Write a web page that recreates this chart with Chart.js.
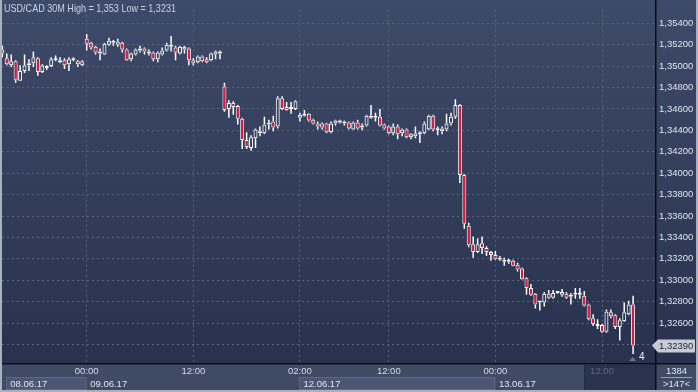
<!DOCTYPE html>
<html>
<head>
<meta charset="utf-8">
<script src="https://cdn.jsdelivr.net/npm/chart.js@4.4.0/dist/chart.umd.min.js"></script>
<style>
  html, body { margin: 0; padding: 0; background: #2e3955; overflow: hidden; }
  canvas { display: block; }
</style>
</head>
<body>
<canvas id="chart" width="698" height="392"></canvas>
<script>
// USD/CAD 30分足 (08.06.17 - 13.06.17)
const openP = [
  1.35118, 1.35073, 1.35009, 1.35045, 1.34864, 1.34955, 1.35009, 1.35027, 1.35073, 1.34945,
  1.34982, 1.35000, 1.35055, 1.35055, 1.35055, 1.35018, 1.35055, 1.35045, 1.35009, 1.35255,
  1.35218, 1.35182, 1.35136, 1.35109, 1.35200, 1.35218, 1.35227, 1.35218, 1.35155, 1.35064,
  1.35109, 1.35145, 1.35164, 1.35118, 1.35127, 1.35064, 1.35109, 1.35145, 1.35200, 1.35173,
  1.35118, 1.35155, 1.35164, 1.35055, 1.35036, 1.35091, 1.35064, 1.35055, 1.35109, 1.35118,
  1.34809, 1.34600, 1.34655, 1.34627, 1.34509, 1.34309, 1.34236, 1.34327, 1.34391, 1.34373,
  1.34455, 1.34482, 1.34436, 1.34700, 1.34618, 1.34600, 1.34600, 1.34518, 1.34536, 1.34555,
  1.34500, 1.34464, 1.34464, 1.34464, 1.34382, 1.34464, 1.34473, 1.34482, 1.34473, 1.34409,
  1.34473, 1.34427, 1.34445, 1.34518, 1.34518, 1.34527, 1.34455, 1.34436, 1.34373, 1.34436,
  1.34373, 1.34409, 1.34336, 1.34345, 1.34364, 1.34373, 1.34409, 1.34536, 1.34418, 1.34391,
  1.34409, 1.34464, 1.34527, 1.34636, 1.33982, 1.33509, 1.33336, 1.33264, 1.33345, 1.33300,
  1.33264, 1.33236, 1.33191, 1.33191, 1.33173, 1.33182, 1.33145, 1.33109, 1.33018, 1.32927,
  1.32873, 1.32791, 1.32791, 1.32873, 1.32836, 1.32882, 1.32891, 1.32873, 1.32845, 1.32864,
  1.32882, 1.32855, 1.32773, 1.32645, 1.32591, 1.32582, 1.32518, 1.32700, 1.32673, 1.32564,
  1.32618, 1.32682, 1.32773
];
const highP = [
  1.35191, 1.35118, 1.35109, 1.35055, 1.35009, 1.35109, 1.35064, 1.35136, 1.35082, 1.35018,
  1.35009, 1.35082, 1.35100, 1.35082, 1.35073, 1.35082, 1.35082, 1.35055, 1.35055, 1.35300,
  1.35227, 1.35191, 1.35164, 1.35218, 1.35264, 1.35245, 1.35255, 1.35227, 1.35164, 1.35127,
  1.35164, 1.35191, 1.35173, 1.35155, 1.35136, 1.35136, 1.35173, 1.35218, 1.35282, 1.35191,
  1.35191, 1.35191, 1.35173, 1.35073, 1.35100, 1.35100, 1.35082, 1.35127, 1.35145, 1.35145,
  1.34845, 1.34682, 1.34673, 1.34636, 1.34518, 1.34382, 1.34355, 1.34418, 1.34436, 1.34527,
  1.34500, 1.34536, 1.34718, 1.34718, 1.34664, 1.34664, 1.34682, 1.34564, 1.34591, 1.34560,
  1.34509, 1.34482, 1.34473, 1.34470, 1.34482, 1.34500, 1.34500, 1.34491, 1.34482, 1.34482,
  1.34500, 1.34464, 1.34545, 1.34636, 1.34564, 1.34600, 1.34464, 1.34445, 1.34464, 1.34455,
  1.34418, 1.34418, 1.34373, 1.34436, 1.34391, 1.34482, 1.34545, 1.34545, 1.34436, 1.34436,
  1.34555, 1.34564, 1.34691, 1.34645, 1.33991, 1.33536, 1.33409, 1.33391, 1.33409, 1.33318,
  1.33273, 1.33273, 1.33227, 1.33209, 1.33200, 1.33191, 1.33164, 1.33118, 1.33027, 1.32964,
  1.32882, 1.32805, 1.32891, 1.32909, 1.32909, 1.32900, 1.32918, 1.32891, 1.32882, 1.32927,
  1.32927, 1.32900, 1.32780, 1.32682, 1.32636, 1.32591, 1.32727, 1.32727, 1.32682, 1.32645,
  1.32791, 1.32809, 1.32855
];
const lowP = [
  1.35082, 1.35009, 1.34991, 1.34845, 1.34860, 1.34936, 1.34955, 1.34991, 1.34909, 1.34936,
  1.34964, 1.34991, 1.35045, 1.35027, 1.34973, 1.34955, 1.35045, 1.34991, 1.35000, 1.35145,
  1.35155, 1.35109, 1.35055, 1.35105, 1.35191, 1.35191, 1.35182, 1.35127, 1.35050, 1.35045,
  1.35100, 1.35127, 1.35109, 1.35100, 1.35045, 1.35036, 1.35100, 1.35136, 1.35136, 1.35055,
  1.35109, 1.35118, 1.35009, 1.35009, 1.35027, 1.35036, 1.35027, 1.35045, 1.35064, 1.35064,
  1.34573, 1.34518, 1.34545, 1.34455, 1.34227, 1.34227, 1.34209, 1.34236, 1.34345, 1.34364,
  1.34409, 1.34391, 1.34418, 1.34591, 1.34585, 1.34555, 1.34591, 1.34482, 1.34530, 1.34482,
  1.34455, 1.34409, 1.34409, 1.34373, 1.34373, 1.34445, 1.34464, 1.34445, 1.34409, 1.34405,
  1.34409, 1.34400, 1.34436, 1.34509, 1.34482, 1.34436, 1.34409, 1.34364, 1.34355, 1.34318,
  1.34345, 1.34327, 1.34318, 1.34327, 1.34282, 1.34364, 1.34400, 1.34391, 1.34355, 1.34364,
  1.34391, 1.34445, 1.34509, 1.33909, 1.33482, 1.33309, 1.33209, 1.33255, 1.33245, 1.33227,
  1.33182, 1.33191, 1.33182, 1.33136, 1.33155, 1.33130, 1.33082, 1.33005, 1.32864, 1.32855,
  1.32736, 1.32718, 1.32755, 1.32827, 1.32827, 1.32873, 1.32845, 1.32827, 1.32773, 1.32827,
  1.32827, 1.32755, 1.32627, 1.32573, 1.32545, 1.32509, 1.32509, 1.32645, 1.32545, 1.32436,
  1.32609, 1.32673, 1.32310
];
const closeP = [
  1.35155, 1.35018, 1.35045, 1.34873, 1.34955, 1.35009, 1.35027, 1.35082, 1.34945, 1.35009,
  1.35000, 1.35064, 1.35064, 1.35036, 1.35009, 1.35064, 1.35073, 1.35018, 1.35045, 1.35209,
  1.35173, 1.35127, 1.35118, 1.35209, 1.35236, 1.35236, 1.35200, 1.35155, 1.35055, 1.35118,
  1.35155, 1.35164, 1.35136, 1.35136, 1.35064, 1.35127, 1.35145, 1.35200, 1.35182, 1.35127,
  1.35182, 1.35182, 1.35055, 1.35027, 1.35091, 1.35045, 1.35036, 1.35118, 1.35136, 1.35136,
  1.34591, 1.34655, 1.34618, 1.34509, 1.34309, 1.34245, 1.34336, 1.34409, 1.34373, 1.34455,
  1.34473, 1.34427, 1.34700, 1.34600, 1.34591, 1.34618, 1.34673, 1.34545, 1.34545, 1.34491,
  1.34464, 1.34436, 1.34427, 1.34382, 1.34464, 1.34491, 1.34491, 1.34464, 1.34418, 1.34473,
  1.34418, 1.34445, 1.34536, 1.34536, 1.34527, 1.34445, 1.34418, 1.34373, 1.34436, 1.34364,
  1.34409, 1.34336, 1.34364, 1.34373, 1.34382, 1.34464, 1.34536, 1.34409, 1.34400, 1.34418,
  1.34464, 1.34527, 1.34636, 1.33982, 1.33527, 1.33327, 1.33264, 1.33336, 1.33300, 1.33264,
  1.33236, 1.33200, 1.33209, 1.33173, 1.33182, 1.33136, 1.33100, 1.33009, 1.32927, 1.32864,
  1.32773, 1.32800, 1.32873, 1.32836, 1.32882, 1.32891, 1.32864, 1.32836, 1.32864, 1.32882,
  1.32864, 1.32764, 1.32636, 1.32591, 1.32573, 1.32518, 1.32709, 1.32664, 1.32564, 1.32627,
  1.32700, 1.32773, 1.32390
];

// 時間軸のラベル（足のインデックスで位置を指定）
const tickIdx = [19, 43, 67, 87, 111, 135];
const tickLabels = ["00:00", "12:00", "02:00", "12:00", "00:00", "12:00"];
const dateLabels = ["08.06.17", "09.06.17", "12.06.17", "13.06.17"];
const dateStart = [1, 19, 67, 111];
const shadeFrom = 131; // 右下の暗い枠の開始位置

const symbol = "USD/CAD 30M";
const barCount = "1384";
const visibleBars = ">147<";
const lastMark = "4";

const UP_FILL = "rgba(0,0,0,0)";
const DOWN_FILL = "#e3173f";
const CANDLE_LINE = "#ffffff";
const FONT = "Liberation Sans";

const fmt = (v) => String(+v.toFixed(5)).replace(".", ",");
const fmt5 = (v) => v.toFixed(5).replace(".", ",");

// ローソク足の実体とヒゲ
const idx = openP.map((_, i) => i);
const bodies = idx.map((i) => ({ x: i, y: [Math.min(openP[i], closeP[i]), Math.max(openP[i], closeP[i])] }));
const upperWicks = idx.map((i) => ({ x: i, y: [Math.max(openP[i], closeP[i]), highP[i]] }));
const lowerWicks = idx.map((i) => ({ x: i, y: [lowP[i], Math.min(openP[i], closeP[i])] }));

const chromePlugin = {
  id: "chrome",
  beforeDraw(chart) {
    const { ctx, chartArea: a, width } = chart;
    const g = ctx.createLinearGradient(0, 0, 0, a.bottom);
    g.addColorStop(0, "#3e4a69");
    g.addColorStop(1, "#28324e");
    ctx.save();
    ctx.fillStyle = g;
    ctx.fillRect(0, 0, width, a.bottom);
    ctx.restore();
  },
  afterDraw(chart) {
    const { ctx, chartArea: a, width, height } = chart;
    const xs = chart.scales.x;
    const ys = chart.scales.y;
    ctx.save();

    // 下のパネル
    ctx.fillStyle = "#3f4a65";
    ctx.fillRect(0, a.bottom, width, height - a.bottom);

    // 日付の帯
    const rowTop = a.bottom + 14;
    const rowBottom = height - 2;
    dateLabels.forEach((label, k) => {
      const x0 = Math.max(xs.getPixelForValue(dateStart[k]) - 0.5, a.left + 4);
      const x1 = k + 1 < dateLabels.length ? xs.getPixelForValue(dateStart[k + 1]) : a.right;
      if (k % 2 === 0) {
        ctx.fillStyle = "#4b5672";
        ctx.fillRect(x0, rowTop, x1 - x0, rowBottom - rowTop);
        ctx.strokeStyle = "#5d6884";
        ctx.lineWidth = 1;
        ctx.strokeRect(Math.round(x0) + 0.5, rowTop + 0.5, x1 - x0 - 1, rowBottom - rowTop - 1);
      }
      ctx.fillStyle = "#dfe5f0";
      ctx.font = `9.5px ${FONT}`;
      ctx.textAlign = "left";
      ctx.textBaseline = "middle";
      ctx.fillText(label, x0 + 4, rowTop + 7);
    });

    // 右下の暗い枠
    const shadeX = xs.getPixelForValue(shadeFrom);
    ctx.fillStyle = "#29334c";
    ctx.fillRect(shadeX, a.bottom + 2, a.right - shadeX, height - a.bottom - 4);
    ctx.fillStyle = "#222a3f";
    ctx.fillRect(shadeX, a.bottom + 2, 1, height - a.bottom - 4);

    // 時刻ラベル
    ctx.font = `9.5px ${FONT}`;
    ctx.textAlign = "center";
    ctx.textBaseline = "middle";
    tickIdx.forEach((v, k) => {
      const px = xs.getPixelForValue(v);
      ctx.fillStyle = px > shadeX ? "#5a6680" : "#d3dbea";
      ctx.fillText(tickLabels[k], px, a.bottom + 8);
    });

    // 右下のボックス
    const cx = (a.right + width) / 2;
    ctx.fillStyle = "#3f4a65";
    ctx.fillRect(a.right + 1, a.bottom + 1, width - a.right - 3, height - a.bottom - 3);
    ctx.fillStyle = "#dfe5f0";
    ctx.fillText(barCount, cx, a.bottom + 8);
    ctx.fillText(visibleBars, cx, a.bottom + 21);
    ctx.fillStyle = "#9aa3b6";
    ctx.fillRect(a.right + 6, a.bottom + 14, width - a.right - 12, 1);

    // 区切り線
    ctx.fillStyle = "#0c0e13";
    ctx.fillRect(a.right, 0, 1.5, height);
    ctx.fillRect(0, a.bottom, width, 1.5);

    // 枠
    ctx.fillStyle = "#aab1be";
    ctx.fillRect(0, 0, 2, height);
    ctx.fillRect(width - 2, 0, 2, height);
    ctx.fillRect(0, height - 2, width, 2);

    // 現在値のタグ
    const last = closeP.length - 1;
    const ty = ys.getPixelForValue(closeP[last]);
    ctx.fillStyle = "#c6cbd4";
    ctx.beginPath();
    ctx.moveTo(a.right - 3, ty);
    ctx.lineTo(a.right + 3, ty - 6);
    ctx.lineTo(width - 3, ty - 6);
    ctx.lineTo(width - 3, ty + 7);
    ctx.lineTo(a.right + 3, ty + 7);
    ctx.closePath();
    ctx.fill();
    ctx.fillStyle = "#1f2534";
    ctx.font = `9.5px ${FONT}`;
    ctx.textAlign = "left";
    ctx.fillText(fmt5(closeP[last]), a.right + 4, ty + 1);

    // 最後の足の下のマーク
    const lx = xs.getPixelForValue(last);
    const ly = ys.getPixelForValue(lowP[last]);
    ctx.fillStyle = "#6b7489";
    ctx.beginPath();
    ctx.moveTo(lx - 4, ly + 7);
    ctx.lineTo(lx + 3, ly + 7);
    ctx.lineTo(lx - 0.5, ly + 3);
    ctx.closePath();
    ctx.fill();
    ctx.fillStyle = "#f0f3f8";
    ctx.font = `10px ${FONT}`;
    ctx.fillText(lastMark, lx + 6, ly + 3);

    // タイトル
    ctx.fillStyle = "#c9d2e3";
    ctx.font = `10.5px ${FONT}`;
    ctx.textBaseline = "middle";
    const title = `${symbol} High = ${fmt(Math.max(...highP))} Low = ${fmt(Math.min(...lowP))}`;
    ctx.fillText(title, 4, 9, 172);

    ctx.restore();
  },
};

const barBase = { grouped: false, borderSkipped: false, inflateAmount: 0 };

const ctx = document.getElementById("chart").getContext("2d");
new Chart(ctx, {
  type: "bar",
  data: {
    datasets: [
      {
        ...barBase,
        label: "body",
        data: bodies,
        barThickness: 4,
        minBarLength: 2,
        borderWidth: 1,
        borderColor: CANDLE_LINE,
        backgroundColor: (c) => (closeP[c.dataIndex] < openP[c.dataIndex] ? DOWN_FILL : UP_FILL),
      },
      {
        ...barBase,
        label: "upper",
        data: upperWicks,
        barThickness: 1.5,
        borderWidth: 0,
        backgroundColor: CANDLE_LINE,
      },
      {
        ...barBase,
        label: "lower",
        data: lowerWicks,
        barThickness: 1.5,
        borderWidth: 0,
        backgroundColor: CANDLE_LINE,
      },
    ],
  },
  options: {
    responsive: false,
    devicePixelRatio: 1,
    animation: false,
    layout: { padding: { left: 2, right: 2, top: 0, bottom: 2 } },
    plugins: { legend: { display: false }, tooltip: { enabled: false } },
    scales: {
      x: {
        type: "linear",
        offset: false,
        min: -0.07,
        max: 146.93,
        grid: { offset: false, color: "#57637f", drawTicks: false, lineWidth: 1 },
        border: { display: false, dash: [2, 3] },
        ticks: { display: false },
        afterBuildTicks: (scale) => {
          scale.ticks = tickIdx.map((v) => ({ value: v }));
        },
        afterFit: (scale) => {
          scale.height = 27;
        },
      },
      y: {
        type: "linear",
        position: "right",
        min: 1.32227,
        max: 1.35527,
        grid: { color: "#57637f", drawTicks: false, lineWidth: 1 },
        border: { display: false, dash: [2, 3] },
        ticks: {
          stepSize: 0.002,
          includeBounds: false,
          padding: 4,
          color: "#dde3ee",
          font: { family: FONT, size: 9.5 },
          callback: (v) => fmt5(v),
        },
        afterFit: (scale) => {
          scale.width = 41;
        },
      },
    },
  },
  plugins: [chromePlugin],
});
</script>
</body>
</html>
